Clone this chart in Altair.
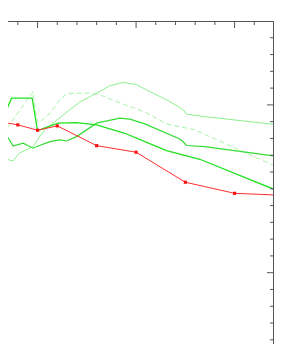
import altair as alt
import pandas as pd

# ---- data ----
red_x = [6, 8, 10, 12, 16, 20, 25, 30, 35]
red_y = [0.902, 0.881, 0.849, 0.875, 0.757, 0.718, 0.539, 0.473, 0.461]

a_x = [6.5, 7.5, 8.2, 9.5, 10.0, 10.7, 12.6, 14.3, 16.0, 17.3, 18.7, 20.0, 21.4, 22.9, 24.3, 24.8, 25.1, 27.0, 34.0, 35.0]
a_y = [0.682, 0.666, 0.714, 0.750, 0.791, 0.851, 0.940, 1.018, 1.070, 1.113, 1.134, 1.122, 1.079, 1.036, 0.990, 0.970, 0.945, 0.930, 0.884, 0.877]

b_x = [6.5, 7.0, 9.55, 9.9, 10.1, 11.25, 12.26, 12.94, 13.96, 15.31, 16.32, 18.9, 20.89, 23.09, 25.97, 33.92, 35.0]
b_y = [0.82, 0.87, 1.079, 0.921, 0.891, 0.950, 1.030, 1.066, 1.070, 1.070, 1.060, 1.000, 0.958, 0.887, 0.851, 0.640, 0.611]

c_x = [6.17, 6.68, 7.02, 7.52, 8.54, 9.55, 10.06, 11.25, 12.26, 12.94, 13.96, 15.99, 18.35, 19.37, 20.89, 24.44, 24.8, 25.12, 26.98, 33.92, 35.0]
c_y = [0.821, 0.831, 0.803, 0.755, 0.772, 0.742, 0.755, 0.781, 0.791, 0.785, 0.811, 0.891, 0.921, 0.915, 0.887, 0.797, 0.779, 0.758, 0.751, 0.696, 0.688]

d_x = [6.5, 6.85, 7.36, 9.45, 10.0, 10.74, 12.09, 13.96, 15.99, 18.86, 20.89, 23.09, 26.47, 34.0, 35.0]
d_y = [0.85, 0.97, 1.040, 1.040, 0.845, 0.863, 0.891, 0.894, 0.881, 0.831, 0.781, 0.728, 0.676, 0.497, 0.473]

top_major = [10, 20, 30]
top_minor = [8, 12, 14, 16, 18, 22, 24, 26, 28, 32]
right_major = [1.0, 0.0]
right_minor = [1.4, 1.3, 1.2, 1.1, 0.9, 0.8, 0.7, 0.6, 0.5, 0.4, 0.3, 0.2, 0.1,
               -0.1, -0.2, -0.3, -0.4]

W = 266
H = 323
AX = "#555555"

xs = alt.Scale(domain=[7, 34], nice=False, zero=False)
ys = alt.Scale(domain=[-0.425, 1.5], nice=False, zero=False)


def line(xv, yv, color, width, dash=None):
    df = pd.DataFrame({"x": xv, "y": yv})
    kw = dict(color=color, strokeWidth=width, clip=True)
    if dash:
        kw["strokeDash"] = dash
    return alt.Chart(df).mark_line(**kw).encode(
        x=alt.X("x:Q", scale=xs, axis=None),
        y=alt.Y("y:Q", scale=ys, axis=None),
        order="x:Q",
    )


la = line(a_x, a_y, "#8cf08c", 1)
lb = line(b_x, b_y, "#a8f4a8", 1, dash=[5, 3])
lc = line(c_x, c_y, "#33dd33", 1.2)
ld = line(d_x, d_y, "#22e022", 1.3)
lr = line(red_x, red_y, "#ff3030", 1)

pts = alt.Chart(pd.DataFrame({"x": red_x, "y": red_y})).mark_square(
    color="#ff1010", size=10, opacity=1, clip=True
).encode(x=alt.X("x:Q", scale=xs, axis=None), y=alt.Y("y:Q", scale=ys, axis=None))

one = pd.DataFrame({"k": [0]})
frame_top = alt.Chart(one).mark_rule(color=AX, strokeWidth=1).encode(
    x=alt.value(0), x2=alt.value(W), y=alt.value(0.5))
frame_right = alt.Chart(one).mark_rule(color=AX, strokeWidth=1).encode(
    x=alt.value(W - 0.5), y=alt.value(0), y2=alt.value(H))

tick_top_major = alt.Chart(pd.DataFrame({"t": top_major})).mark_rule(color=AX, strokeWidth=1).encode(
    x=alt.X("t:Q", scale=xs, axis=None), y=alt.value(0), y2=alt.value(7))
tick_top_minor = alt.Chart(pd.DataFrame({"t": top_minor})).mark_rule(color=AX, strokeWidth=1).encode(
    x=alt.X("t:Q", scale=xs, axis=None), y=alt.value(0), y2=alt.value(4))
tick_r_major = alt.Chart(pd.DataFrame({"t": right_major})).mark_rule(color=AX, strokeWidth=1).encode(
    y=alt.Y("t:Q", scale=ys, axis=None), x=alt.value(W - 7), x2=alt.value(W))
tick_r_minor = alt.Chart(pd.DataFrame({"t": right_minor})).mark_rule(color=AX, strokeWidth=1).encode(
    y=alt.Y("t:Q", scale=ys, axis=None), x=alt.value(W - 4), x2=alt.value(W))

chart = alt.layer(
    la, lb, lc, ld, lr, pts,
    tick_top_major, tick_top_minor, tick_r_major, tick_r_minor,
    frame_top, frame_right,
).properties(
    width=W, height=H,
    background="white",
    autosize=alt.AutoSizeParams(type="none"),
    padding={"left": 0, "top": 13, "right": 10, "bottom": 0},
).configure_view(stroke=None)

chart.save("out.html", embed_options={"renderer": "svg", "actions": False})
